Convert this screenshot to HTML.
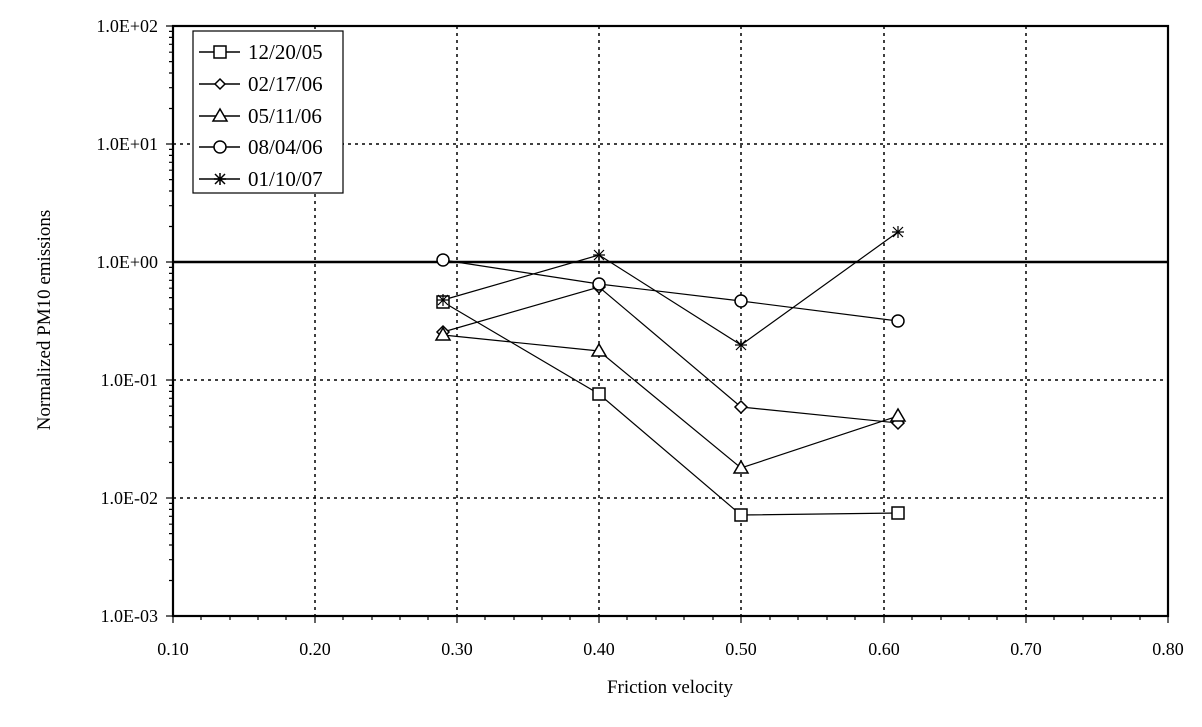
<!DOCTYPE html>
<html><head><meta charset="utf-8"><style>body{margin:0;background:#fff}svg{display:block}</style></head><body>
<svg width="1202" height="727" xmlns="http://www.w3.org/2000/svg" font-family="Liberation Serif, serif" font-size="18">
<rect width="1202" height="727" fill="#fff"/>
<g stroke="#000" stroke-width="1.5" stroke-dasharray="3,4">
<line x1="315" y1="26" x2="315" y2="616"/><line x1="457" y1="26" x2="457" y2="616"/><line x1="599" y1="26" x2="599" y2="616"/><line x1="741" y1="26" x2="741" y2="616"/><line x1="884" y1="26" x2="884" y2="616"/><line x1="1026" y1="26" x2="1026" y2="616"/>
<line x1="173" y1="144" x2="1168" y2="144"/><line x1="173" y1="380" x2="1168" y2="380"/><line x1="173" y1="498" x2="1168" y2="498"/>
</g>
<line x1="173" y1="262" x2="1168" y2="262" stroke="#000" stroke-width="2.5"/>
<rect x="173" y="26" width="995" height="590" fill="none" stroke="#000" stroke-width="2.2"/>
<g stroke="#000" stroke-width="1.2">
<line x1="173" y1="616" x2="173" y2="623"/><line x1="315" y1="616" x2="315" y2="623"/><line x1="457" y1="616" x2="457" y2="623"/><line x1="599" y1="616" x2="599" y2="623"/><line x1="741" y1="616" x2="741" y2="623"/><line x1="884" y1="616" x2="884" y2="623"/><line x1="1026" y1="616" x2="1026" y2="623"/><line x1="1168" y1="616" x2="1168" y2="623"/>
<line x1="166" y1="26" x2="173" y2="26"/><line x1="166" y1="144" x2="173" y2="144"/><line x1="166" y1="262" x2="173" y2="262"/><line x1="166" y1="380" x2="173" y2="380"/><line x1="166" y1="498" x2="173" y2="498"/><line x1="166" y1="616" x2="173" y2="616"/>
<path d="M201,616v4M230,616v4M258,616v4M286,616v4M343,616v4M372,616v4M400,616v4M428,616v4M485,616v4M514,616v4M542,616v4M570,616v4M627,616v4M656,616v4M684,616v4M713,616v4M770,616v4M798,616v4M827,616v4M855,616v4M912,616v4M941,616v4M969,616v4M997,616v4M1054,616v4M1083,616v4M1111,616v4M1140,616v4"/>
<path d="M169,580.5h4M169,559.7h4M169,545h4M169,533.6h4M169,524.2h4M169,516.3h4M169,509.4h4M169,503.4h4
M169,462.5h4M169,441.7h4M169,427h4M169,415.6h4M169,406.2h4M169,398.3h4M169,391.4h4M169,385.4h4
M169,344.5h4M169,323.7h4M169,309h4M169,297.6h4M169,288.2h4M169,280.3h4M169,273.4h4M169,267.4h4
M169,226.5h4M169,205.7h4M169,191h4M169,179.6h4M169,170.2h4M169,162.3h4M169,155.4h4M169,149.4h4
M169,108.5h4M169,87.7h4M169,73h4M169,61.6h4M169,52.2h4M169,44.3h4M169,37.4h4M169,31.4h4"/>
</g>
<g text-anchor="end">
<text x="158" y="32">1.0E+02</text><text x="158" y="150">1.0E+01</text><text x="158" y="268">1.0E+00</text><text x="158" y="386">1.0E-01</text><text x="158" y="504">1.0E-02</text><text x="158" y="622">1.0E-03</text>
</g>
<g text-anchor="middle">
<text x="173" y="655">0.10</text><text x="315" y="655">0.20</text><text x="457" y="655">0.30</text><text x="599" y="655">0.40</text><text x="741" y="655">0.50</text><text x="884" y="655">0.60</text><text x="1026" y="655">0.70</text><text x="1168" y="655">0.80</text>
<text x="670" y="693" font-size="19">Friction velocity</text>
<text transform="translate(50,320) rotate(-90)" font-size="19">Normalized PM10 emissions</text>
</g>
<g fill="none" stroke="#000" stroke-width="1.2">
<polyline points="443,302 599,394 741,515 898,513"/>
<polyline points="443,332 599,287 741,407 898,423"/>
<polyline points="443,335 599,351 741,468 898,416"/>
<polyline points="443,260 599,284 741,301 898,321"/>
<polyline points="443,300 599,255 741,345 898,232"/>
<g fill="#fff" stroke-width="1.5">
<rect x="437" y="296" width="12" height="12"/><rect x="593" y="388" width="12" height="12"/><rect x="735" y="509" width="12" height="12"/><rect x="892" y="507" width="12" height="12"/>
<path d="M443,326 l6,6 -6,6 -6,-6z M599,281 l6,6 -6,6 -6,-6z M741,401 l6,6 -6,6 -6,-6z M898,417 l6,6 -6,6 -6,-6z"/>
<path d="M443,328 l7,12 -14,0z M599,344 l7,12 -14,0z M741,461 l7,12 -14,0z M898,409 l7,12 -14,0z"/>
<circle cx="443" cy="260" r="6"/><circle cx="599" cy="284" r="6"/><circle cx="741" cy="301" r="6"/><circle cx="898" cy="321" r="6"/>
</g>
<path d="M437,300h12M443,294v12M438,295l10,10M448,295l-10,10 M593,255h12M599,249v12M594,250l10,10M604,250l-10,10 M735,345h12M741,339v12M736,340l10,10M746,340l-10,10 M892,232h12M898,226v12M893,227l10,10M903,227l-10,10"/>
</g>
<rect x="193" y="31" width="150" height="162" fill="#fff" stroke="#000" stroke-width="1.2"/>
<g fill="none" stroke="#000" stroke-width="1.5">
<line x1="199" y1="52" x2="240" y2="52"/><line x1="199" y1="84" x2="240" y2="84"/><line x1="199" y1="116" x2="240" y2="116"/><line x1="199" y1="147" x2="240" y2="147"/><line x1="199" y1="179" x2="240" y2="179"/>
<g fill="#fff" stroke-width="1.5">
<rect x="214" y="46" width="12" height="12"/>
<path d="M220,79 l5,5 -5,5 -5,-5z"/>
<path d="M220,109 l7,12 -14,0z"/>
<circle cx="220" cy="147" r="6"/>
</g>
<path d="M214,179h12M220,173v12M215,174l10,10M225,174l-10,10"/>
</g>
<g font-size="21">
<text x="248" y="59">12/20/05</text><text x="248" y="91">02/17/06</text><text x="248" y="123">05/11/06</text><text x="248" y="154">08/04/06</text><text x="248" y="186">01/10/07</text>
</g>
</svg>
</body></html>
